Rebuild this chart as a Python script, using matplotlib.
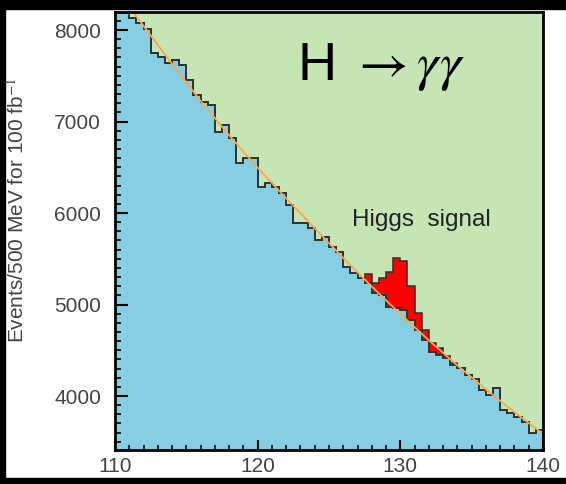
import numpy as np
import matplotlib
matplotlib.use("Agg")
import matplotlib.pyplot as plt
from matplotlib.patches import Rectangle
from matplotlib.ticker import MultipleLocator

plt.rcParams['font.family'] = ['Liberation Sans', 'DejaVu Sans']
plt.rcParams['mathtext.fontset'] = 'stix'

# diphoton mass bins, 500 MeV wide
edges = np.arange(110.0, 140.01, 0.5)

# background histogram (events per bin)
background = [8300, 8190, 8128, 8077, 8011, 7745, 7708, 7636, 7672, 7617,
              7453, 7285, 7217, 7180, 6889, 6962, 6816, 6543, 6597, 6597,
              6288, 6324, 6288, 6215, 6087, 5887, 5887, 5832, 5704, 5741,
              5631, 5577, 5413, 5340, 5285, 5231, 5122, 5104, 4976, 4958,
              4940, 4830, 4721, 4612, 4484, 4448, 4411, 4338, 4302, 4229,
              4182, 4065, 4010, 4083, 3846, 3810, 3773, 3719, 3591, 3628]

# Higgs signal on top of the background
signal = [0, 0, 0, 0, 0, 0, 0, 0, 0, 0,
          0, 0, 0, 0, 0, 0, 0, 0, 0, 0,
          0, 0, 0, 0, 0, 0, 0, 0, 0, 0,
          0, 0, 0, 0, 0, 100, 108, 182, 383, 546,
          540, 372, 182, 109, 91, 72, 29, 22, 0, 0,
          0, 0, 0, 0, 0, 0, 0, 0, 0, 0]

# smooth background fit
fit_mass = [110, 112, 114, 116, 118, 120, 122, 124, 126, 128, 130, 132, 134, 136, 138, 140]
fit_events = [8458, 8045, 7630, 7225, 6850, 6495, 6160, 5833, 5508, 5196,
              4896, 4609, 4334, 4072, 3823, 3586]

bkg = np.array(background, dtype=float)
total = bkg + np.array(signal, dtype=float)

fig = plt.figure(figsize=(5.66, 4.84), dpi=100, facecolor='white')
W, H = 566.0, 484.0

# black frame around the whole picture
fig.patches.append(Rectangle((0, 1 - 9 / H), 1, 9 / H, transform=fig.transFigure,
                             color='black', zorder=0))
fig.patches.append(Rectangle((0, 0), 5 / W, 1, transform=fig.transFigure,
                             color='black', zorder=0))
fig.patches.append(Rectangle((0, 0), 1, 6 / H, transform=fig.transFigure,
                             color='black', zorder=0))

ax = fig.add_axes([115 / W, 34 / H, 428 / W, 438 / H])
ax.set_facecolor('#c6e5b4')

ax.stairs(bkg, edges, baseline=0, fill=True, color='#86cfe3', zorder=1)
ax.stairs(total, edges, baseline=bkg, fill=True, color='#ff0000', zorder=1.2)
ax.stairs(total, edges, baseline=None, color='#3a2a2a', lw=1.1, zorder=1.4)
ax.stairs(bkg, edges, baseline=None, color='#333333', lw=1.4, zorder=1.5)
ax.plot(fit_mass, fit_events, color='#f7a94a', lw=1.3, zorder=1.6)

ax.set_xlim(110, 140)
ax.set_ylim(3410, 8197)

ax.xaxis.set_major_locator(MultipleLocator(10))
ax.xaxis.set_minor_locator(MultipleLocator(1))
ax.yaxis.set_major_locator(MultipleLocator(1000))
ax.yaxis.set_minor_locator(MultipleLocator(100))
ax.tick_params(which='both', direction='in', top=False, right=False,
               colors='black', labelcolor='#444444', labelsize=15)
ax.tick_params(axis='x', which='major', length=7, width=1.5, pad=5)
ax.tick_params(axis='x', which='minor', length=3.5, width=1.2)
ax.tick_params(axis='y', which='major', length=9, width=1.5, pad=10)
ax.tick_params(axis='y', which='minor', length=4.5, width=1.2)
for s in ax.spines.values():
    s.set_linewidth(2.0)
    s.set_color('black')

fig.text(17 / W, 1 - 210 / H, r'Events/500 MeV for 100 fb$^{-1}$', rotation=90,
         ha='center', va='center', fontsize=15, color='#444444')

ax.text(0.425, 0.845, r'H $\rightarrow\gamma\gamma$', transform=ax.transAxes,
        fontsize=39, color='black', ha='left', va='baseline')
ax.text(126.64, 5858, 'Higgs  signal', fontsize=17.5, color='#222222',
        ha='left', va='baseline')

fig.savefig('out.png', dpi=100, facecolor=fig.get_facecolor())
